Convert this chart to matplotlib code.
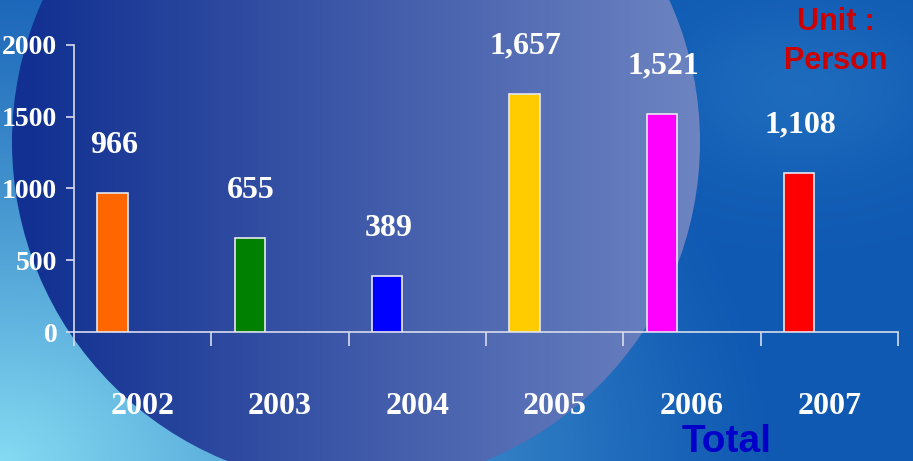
import numpy as np
import matplotlib
matplotlib.use('Agg')
import matplotlib.pyplot as plt
from matplotlib.patches import Circle

years = ['2002', '2003', '2004', '2005', '2006', '2007']
persons = [966, 655, 389, 1657, 1521, 1108]
value_labels = ['966', '655', '389', '1,657', '1,521', '1,108']
bar_colors = ['#ff6600', '#008000', '#0000ff', '#ffcc00', '#ff00ff', '#ff0000']
y_ticks = [0, 500, 1000, 1500, 2000]

W, H = 913, 461
SERIF = 'Liberation Serif'
SANS = 'Liberation Sans'
AXIS_COL = '#d8dcec'

fig = plt.figure(figsize=(W / 100, H / 100), dpi=100)

# background: blue slide with cyan glow bottom-left
bg = fig.add_axes([0, 0, 1, 1])
bg.set_xlim(0, W)
bg.set_ylim(H, 0)
bg.axis('off')
yy, xx = np.mgrid[0:H, 0:W]
base = np.array([0.06, 0.35, 0.70])
cyan = np.array([0.52, 0.86, 0.95])
d = np.sqrt((xx / W) ** 2 + ((H - yy) / (H * 1.4)) ** 2)
t = np.clip(1 - d / 0.85, 0, 1)[..., None] ** 1.2
img = base * (1 - t) + cyan * t
# soft lighter patch on the right
g = np.exp(-(((xx - 800) / 140.0) ** 2 + ((yy - 90) / 90.0) ** 2))[..., None]
img = img * (1 - 0.35 * g) + np.array([0.22, 0.55, 0.82]) * 0.35 * g
bg.imshow(img, extent=(0, W, H, 0), aspect='auto', interpolation='bilinear')

# big circle with horizontal gradient
circ = Circle((356, 142), 344, facecolor='none', edgecolor='none',
              transform=bg.transData)
bg.add_patch(circ)
s = np.clip((xx - 30) / 670.0, 0, 1)[..., None]
left_c = np.array([0.07, 0.19, 0.57])
right_c = np.array([0.43, 0.52, 0.76])
grad = left_c * (1 - s) + right_c * s
im2 = bg.imshow(grad, extent=(0, W, H, 0), aspect='auto', interpolation='bilinear')
im2.set_clip_path(circ)

# chart
ax = fig.add_axes([74 / W, (H - 332) / H, (898 - 74) / W, (332 - 45) / H])
ax.patch.set_alpha(0)
ax.set_xlim(0, 6)
ax.set_ylim(0, 2000)

x = np.arange(len(years))
ax.bar(x + 0.17, persons, width=0.22, align='edge', color=bar_colors,
       edgecolor='#e8e8f0', linewidth=1.2, zorder=3)

for i in range(len(years)):
    ax.annotate(value_labels[i], (x[i] + 0.29, persons[i]), xytext=(0, 24),
                textcoords='offset points', ha='center', va='bottom',
                color='white', fontsize=23, fontweight='bold', family=SERIF)

for side in ['top', 'right']:
    ax.spines[side].set_visible(False)
for side in ['left', 'bottom']:
    ax.spines[side].set_color(AXIS_COL)
    ax.spines[side].set_linewidth(1.2)

ax.set_yticks(y_ticks)
ax.set_yticklabels([str(v) for v in y_ticks], family=SERIF, fontweight='bold')
ax.tick_params(axis='y', length=6, width=1.2, color=AXIS_COL, pad=6,
               labelsize=20, labelcolor='white')

ax.set_xticks(np.arange(7))
ax.set_xticklabels([])
ax.tick_params(axis='x', which='major', length=10, width=1.2, color=AXIS_COL)
ax.set_xticks(x + 0.5, minor=True)
ax.set_xticklabels(years, minor=True, family=SERIF, fontweight='bold')
ax.tick_params(axis='x', which='minor', length=0, pad=43, labelsize=23,
               labelcolor='white')

fig.text(836 / W, 1 - 22 / H, 'Unit :', color='#cc0000', fontsize=22,
         fontweight='bold', family=SANS, ha='center', va='center')
fig.text(836 / W, 1 - 61 / H, 'Person', color='#cc0000', fontsize=22,
         fontweight='bold', family=SANS, ha='center', va='center')
fig.text(727 / W, 1 / H, 'Total', color='#0000c8', fontsize=28,
         fontweight='bold', family=SANS, ha='center', va='bottom')

fig.savefig('out.png', dpi=100)
